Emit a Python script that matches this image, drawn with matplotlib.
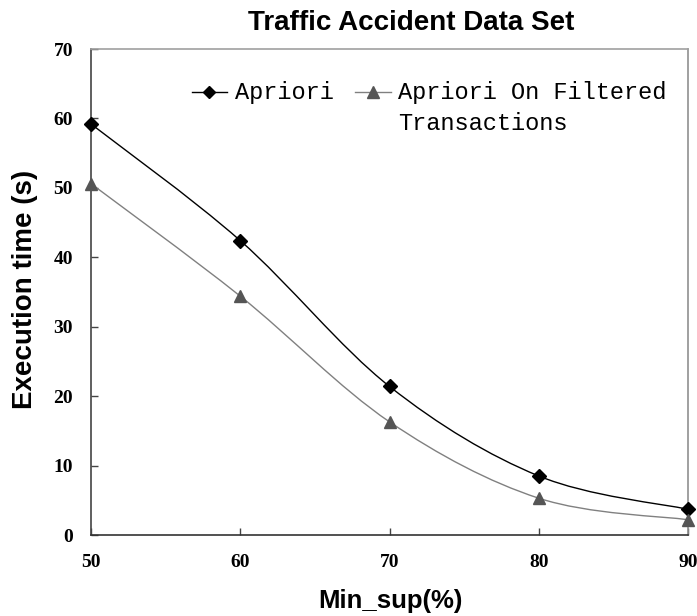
import matplotlib
matplotlib.use("Agg")
import matplotlib.pyplot as plt
from matplotlib.path import Path
from matplotlib.patches import PathPatch
from matplotlib.lines import Line2D
import numpy as np

min_sup = [50, 60, 70, 80, 90]
apriori = [59.2, 42.4, 21.4, 8.5, 3.7]
apriori_filtered = [50.6, 34.4, 16.3, 5.3, 2.2]
x_ticks = [50, 60, 70, 80, 90]
y_ticks = [0, 10, 20, 30, 40, 50, 60, 70]
series_labels = ["Apriori", "Apriori On Filtered", "Transactions"]


def smooth_path(xs, ys):
    pts = np.column_stack([xs, ys]).astype(float)
    ext = np.vstack([pts[0], pts, pts[-1]])
    verts = [tuple(pts[0])]
    codes = [Path.MOVETO]
    for i in range(1, len(ext) - 2):
        p0, p1, p2, p3 = ext[i - 1], ext[i], ext[i + 1], ext[i + 2]
        c1 = p1 + (p2 - p0) / 6.0
        c2 = p2 - (p3 - p1) / 6.0
        verts += [tuple(c1), tuple(c2), tuple(p2)]
        codes += [Path.CURVE4] * 3
    return Path(verts, codes)


W, H = 697, 616
fig = plt.figure(figsize=(W / 100, H / 100), dpi=100)
ax = fig.add_axes([91 / W, 1 - 535 / H, (688 - 91) / W, (535 - 49) / H])

ax.add_patch(PathPatch(smooth_path(min_sup, apriori), fill=False, edgecolor="black", lw=1.0, zorder=2))
ax.add_patch(PathPatch(smooth_path(min_sup, apriori_filtered), fill=False, edgecolor="#808080", lw=1.0, zorder=2))
ax.plot(min_sup, apriori, linestyle="none", marker="D", markersize=7, color="black", zorder=3, clip_on=False)
ax.plot(min_sup, apriori_filtered, linestyle="none", marker="^", markersize=9, color="#555555", zorder=3, clip_on=False)

ax.set_xlim(50, 90)
ax.set_ylim(0, 70)
ax.set_xticks(x_ticks)
ax.set_yticks(y_ticks)
ax.tick_params(direction="in", length=5, width=1, color="#444444", top=False, right=False)
ax.tick_params(axis="x", pad=14)
ax.tick_params(axis="y", pad=13)
for lab in ax.get_xticklabels() + ax.get_yticklabels():
    lab.set_fontfamily("Liberation Serif")
    lab.set_fontweight("bold")
    lab.set_fontsize(14)

ax.spines["left"].set_color("#444444")
ax.spines["bottom"].set_color("#333333")
ax.spines["top"].set_color("#A0A0A0")
ax.spines["right"].set_color("#909090")
for s in ax.spines.values():
    s.set_linewidth(1.2)

fig.text(411 / W, 1 - 23 / H, "Traffic Accident Data Set", ha="center", va="center",
         fontsize=20, fontweight="bold", family="Liberation Sans")
fig.text(390 / W, 1 - 601 / H, "Min_sup(%)", ha="center", va="center",
         fontsize=18.5, fontweight="bold", family="Liberation Sans")
fig.text(25 / W, 1 - 289 / H, "Execution time (s)", ha="center", va="center", rotation=90,
         fontsize=20, fontweight="bold", family="Liberation Sans")

# manual legend (no frame), handles aligned with first text line
ly = 1 - 92 / H
fig.add_artist(Line2D([192 / W, 227 / W], [ly, ly], transform=fig.transFigure, color="black", lw=1.0))
fig.add_artist(Line2D([209 / W], [ly], transform=fig.transFigure, color="black", marker="D", markersize=6,
                      linestyle="none"))
fig.add_artist(Line2D([355 / W, 391 / W], [ly, ly], transform=fig.transFigure, color="#808080", lw=1.0))
fig.add_artist(Line2D([373 / W], [ly], transform=fig.transFigure, color="#555555", marker="^", markersize=8,
                      linestyle="none"))
fig.text(235 / W, ly, series_labels[0], ha="left", va="center", family="Liberation Mono", fontsize=17)
fig.text(398 / W, ly, series_labels[1], ha="left", va="center", family="Liberation Mono", fontsize=17)
fig.text(398 / W, 1 - 123 / H, series_labels[2], ha="left", va="center", family="Liberation Mono", fontsize=17)

fig.savefig("out.png", dpi=100)
